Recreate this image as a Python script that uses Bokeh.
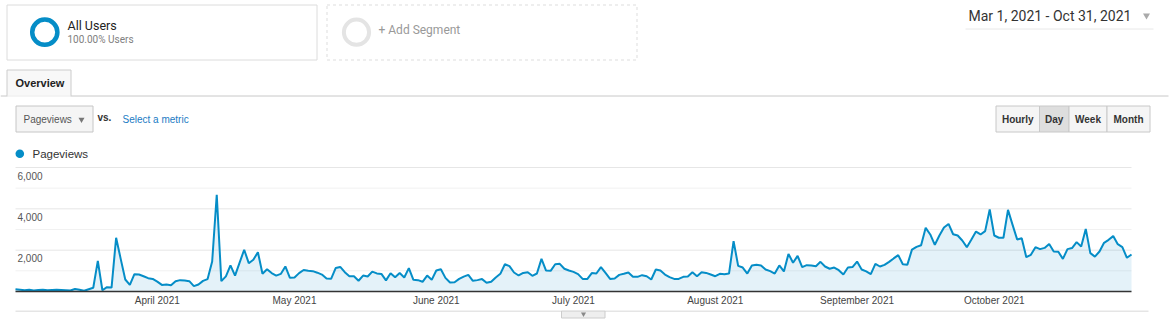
import pandas as pd
from bokeh.plotting import figure
from bokeh.layouts import column
from bokeh.models import Range1d, FixedTicker, DatetimeTickFormatter, ColumnDataSource
from bokeh.core.properties import value
from bokeh.embed import file_html
from bokeh.resources import INLINE

# ---- data (daily pageviews) ----
mar = [110, 90, 60, 80, 50, 70, 80, 60, 70, 80, 70, 60, 50, 120, 80, 40, 110, 180,
       1480, 60, 210, 190, 2600, 1580, 580, 320, 840, 820, 740, 645, 610]
apr = [480, 320, 340, 305, 500, 550, 530, 500, 260, 340, 515, 600, 1450, 4680, 500,
       730, 1260, 770, 1400, 2020, 1370, 1540, 1900, 860, 1080, 890, 770, 850, 1210, 660]
may = [680, 890, 1040, 1000, 985, 910, 820, 630, 615, 1135, 1190, 935, 740, 740, 520,
       770, 725, 965, 875, 850, 540, 885, 685, 895, 680, 1130, 565, 550, 470, 770, 565]
jun = [1015, 1080, 660, 435, 450, 610, 720, 805, 515, 550, 600, 420, 470, 680, 855,
       1320, 1225, 920, 775, 900, 935, 760, 870, 1580, 1015, 1000, 1320, 1340, 1100, 1015]
jul = [950, 840, 610, 600, 890, 870, 1180, 900, 610, 630, 805, 855, 920, 710, 710,
       790, 740, 580, 1065, 1015, 820, 695, 610, 610, 710, 725, 935, 740, 935, 900, 820]
aug = [740, 855, 840, 870, 2435, 1240, 1160, 870, 1260, 1290, 1260, 1065, 985, 870, 1260,
       970, 1820, 1390, 1725, 1180, 1275, 1260, 1225, 1435, 1210, 1100, 1160, 1030, 820, 1160, 1180]
sep = [1450, 1065, 970, 840, 1340, 1210, 1290, 1435, 1600, 1760, 1320, 1300, 2025, 2160, 2240,
       3080, 2760, 2260, 2710, 3100, 3270, 2770, 2710, 2470, 2145, 2520, 2900, 2760, 2920, 3970]
oct_ = [2710, 2600, 2600, 3950, 3225, 2520, 2580, 1660, 1775, 2145, 2050, 2110, 2300, 1935, 1920,
        1580, 2050, 2100, 2390, 2180, 3030, 1855, 1690, 1935, 2355, 2500, 2680, 2290, 2145, 1630, 1790]
pageviews = mar + apr + may + jun + jul + aug + sep + oct_
dates = pd.date_range("2021-03-01", "2021-10-31", freq="D")

month_ticks = ["2021-04-01", "2021-05-01", "2021-06-01", "2021-07-01",
               "2021-08-01", "2021-09-01", "2021-10-01"]
y_ticks = [2000, 4000, 6000]
y_minor = [1000, 3000, 5000]
y_labels = ["2,000", "4,000", "6,000"]
periods = ["Hourly", "Day", "Week", "Month"]

BLUE = "#058dc7"
ARIAL = value("Liberation Sans")
ROBOTO = value("Roboto")
W = 1174

# ---- top part: page header controls (pixel space) ----
top = figure(width=W, height=160, x_range=Range1d(0, W), y_range=Range1d(160, 0),
             x_axis_type=None, y_axis_type=None, output_backend="svg",
             toolbar_location=None, min_border=0)
top.outline_line_color = None
top.xgrid.visible = False
top.ygrid.visible = False

# segment box
top.quad(left=6.5, right=316.5, top=4.5, bottom=59.5, fill_color="white", line_color="#dcdcdc")
top.circle(x=44.3, y=31.7, radius=12.6, fill_color=None, line_color=BLUE, line_width=4.5)
top.text(x=67, y=25, text=["All Users"], text_font=ROBOTO, text_font_size="12.5px",
         text_color="#222222", text_baseline="middle")
top.text(x=67, y=38.5, text=["100.00% Users"], text_font=ROBOTO, text_font_size="10px",
         text_color="#808080", text_baseline="middle")
# add segment box
top.quad(left=326.5, right=636.5, top=4.5, bottom=59.5, fill_color="white",
         line_color="#dddddd", line_dash="3 3")
top.circle(x=356, y=31.7, radius=12.6, fill_color=None, line_color="#e4e4e4", line_width=4)
top.text(x=378, y=29, text=["+ Add Segment"], text_font=ROBOTO, text_font_size="12px",
         text_color="#999999", text_baseline="middle")
# date range
top.text(x=968, y=15.5, text=["Mar 1, 2021 - Oct 31, 2021"], text_font=ROBOTO,
         text_font_size="14px", text_color="#333333", text_baseline="middle")
top.scatter(x=[1146], y=[15], marker="inverted_triangle", size=7, fill_color="#aaaaaa",
            line_color=None)
top.segment(x0=965, y0=28.5, x1=1153, y1=28.5, line_color="#e8e8e8", line_width=1)
# tab
top.segment(x0=[0, 70.5], y0=[95.5, 95.5], x1=[6.5, 1168], y1=[95.5, 95.5],
            line_color="#c8c8c8", line_width=1)
top.quad(left=6.5, right=70.5, top=69.5, bottom=95.5, fill_color="#f8f8f8",
         line_color="#cccccc")
top.segment(x0=7, y0=95.5, x1=70, y1=95.5, line_color="#f8f8f8", line_width=1.5)
top.text(x=15, y=82, text=["Overview"], text_font=ARIAL, text_font_size="11px",
         text_font_style="bold", text_color="#222222", text_baseline="middle")
# metric dropdown
top.quad(left=15.5, right=92.5, top=105.5, bottom=131.5, fill_color="#f5f5f5",
         line_color="#c6c6c6")
top.text(x=23, y=119, text=["Pageviews"], text_font=ARIAL, text_font_size="10px",
         text_color="#555555", text_baseline="middle")
top.scatter(x=[81], y=[119], marker="inverted_triangle", size=6, fill_color="#777777",
            line_color=None)
top.text(x=97, y=117, text=["vs."], text_font=ARIAL, text_font_size="10px",
         text_font_style="bold", text_color="#333333", text_baseline="middle")
top.text(x=122, y=119, text=["Select a metric"], text_font=ARIAL, text_font_size="10px",
         text_color="#1a7bc4", text_baseline="middle")
# period buttons
btn_left = [995.5, 1039, 1068.5, 1106.5]
btn_right = [1039, 1068.5, 1106.5, 1149.5]
btn_fill = ["#f5f5f5", "#dedede", "#f5f5f5", "#f5f5f5"]
top.quad(left=btn_left, right=btn_right, top=105.5, bottom=131.5, fill_color=btn_fill,
         line_color="#c8c8c8")
top.text(x=[(a + b) / 2 for a, b in zip(btn_left, btn_right)], y=119, text=periods,
         text_font=ARIAL, text_font_size="10px", text_font_style="bold",
         text_color="#333333", text_align="center", text_baseline="middle")
# legend
top.circle(x=19.3, y=153.3, radius=4.3, fill_color=BLUE, line_color=None)
top.text(x=32, y=153.5, text=["Pageviews"], text_font=ARIAL, text_font_size="11.5px",
         text_color="#333333", text_baseline="middle")

# ---- chart (frame spans the full width so the stacked plots stay aligned) ----
n_days = len(dates) - 1
px_per_day = (1131 - 15) / n_days
px_per_unit = 124 / 6000
x_start = dates[0] - pd.Timedelta(days=15 / px_per_day)
x_end = dates[-1] + pd.Timedelta(days=(W - 1131) / px_per_day)
y_start = -2 / px_per_unit
y_end = 6000 + 1 / px_per_unit

src = ColumnDataSource(dict(date=dates, pv=pageviews))
p = figure(frame_width=W, frame_height=127, x_axis_type="datetime",
           x_range=Range1d(x_start, x_end), y_range=Range1d(y_start, y_end),
           output_backend="svg", toolbar_location=None,
           min_border_left=0, min_border_right=0, min_border_top=6, min_border_bottom=17)
p.outline_line_color = None
p.yaxis.visible = False
p.xgrid.visible = False
p.ygrid.visible = False

# horizontal grid lines only across the data span
p.segment(x0=dates[0], x1=dates[-1], y0=y_minor, y1=y_minor, line_color="#f1f1f1", line_width=1)
p.segment(x0=dates[0], x1=dates[-1], y0=y_ticks, y1=y_ticks, line_color="#e6e6e6", line_width=1)

p.varea(x="date", y1=0, y2="pv", source=src, fill_color=BLUE, fill_alpha=0.11)
p.line(x="date", y="pv", source=src, line_color=BLUE, line_width=2)
p.segment(x0=dates[0], x1=dates[-1], y0=0, y1=0, line_color="#333333", line_width=1.3)

lab_src = ColumnDataSource(dict(x=[dates[0]] * len(y_ticks), y=y_ticks, t=y_labels))
p.text(x="x", y="y", text="t", source=lab_src, x_offset=2, y_offset=8,
       text_font=ARIAL, text_font_size="10px", text_color="#555555",
       text_baseline="middle", text_align="left")

xa = p.xaxis[0]
xa.ticker = FixedTicker(ticks=[pd.Timestamp(m).value // 10**6 for m in month_ticks])
fmt = "%B %Y"
xa.formatter = DatetimeTickFormatter(milliseconds=fmt, seconds=fmt, minsec=fmt, minutes=fmt,
                                     hourmin=fmt, hours=fmt, days=fmt, months=fmt, years=fmt)
xa.axis_line_color = None
xa.major_tick_line_color = None
xa.minor_tick_line_color = None
xa.major_tick_out = 0
xa.major_tick_in = 0
xa.minor_tick_out = 0
xa.major_label_standoff = 1
xa.major_label_text_font = "Liberation Sans"
xa.major_label_text_font_size = "10px"
xa.major_label_text_color = "#444444"

# ---- bottom strip ----
bot = figure(width=W, height=20, x_range=Range1d(0, W), y_range=Range1d(20, 0),
             x_axis_type=None, y_axis_type=None, output_backend="svg",
             toolbar_location=None, min_border=0)
bot.outline_line_color = None
bot.xgrid.visible = False
bot.ygrid.visible = False
bot.segment(x0=15, y0=0.5, x1=1148, y1=0.5, line_color="#cccccc", line_width=1)
bot.quad(left=561, right=604.5, top=0.5, bottom=7.5, fill_color="#eeeeee", line_color="#cccccc")
bot.scatter(x=[583], y=[3.5], marker="inverted_triangle", size=5, fill_color="#888888",
            line_color=None)

layout = column(top, p, bot, spacing=0)
open("out.html", "w").write(file_html(layout, INLINE))
